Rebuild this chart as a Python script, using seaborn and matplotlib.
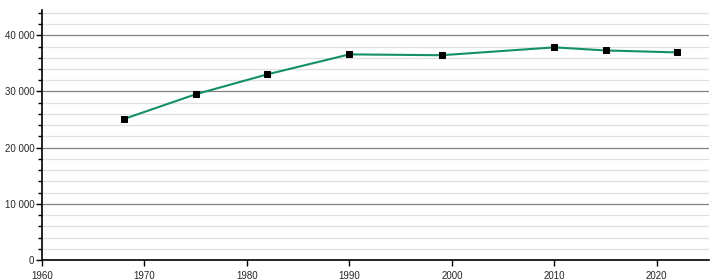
import matplotlib
matplotlib.use("Agg")
import matplotlib.pyplot as plt
import seaborn as sns
import pandas as pd
from matplotlib.ticker import MultipleLocator, FuncFormatter

years = [1968, 1975, 1982, 1990, 1999, 2010, 2015, 2022]
population = [25100, 29500, 33050, 36600, 36450, 37850, 37300, 36950]

df = pd.DataFrame({"year": years, "population": population})

sns.set_style("white")
plt.rcParams["font.family"] = ["Liberation Sans", "DejaVu Sans"]

fig = plt.figure(figsize=(7.2, 2.8), dpi=100)
ax = fig.add_axes([42/720, 20/280, (709-42)/720, 250/280])

sns.lineplot(data=df, x="year", y="population", ax=ax, color="#148f6c",
             linewidth=1.5, marker="s", markersize=3.8,
             markerfacecolor="black", markeredgecolor="black", zorder=3)

ax.set_xlim(1960, 2025.1)
ax.set_ylim(0, 44500)
ax.xaxis.set_major_locator(MultipleLocator(10))
ax.yaxis.set_major_locator(MultipleLocator(10000))
ax.yaxis.set_minor_locator(MultipleLocator(2000))
ax.yaxis.set_major_formatter(FuncFormatter(lambda v, p: f"{int(v):,}".replace(",", " ")))

ax.grid(which="minor", axis="y", color="#e0e0e0", linewidth=0.9, zorder=0)
ax.grid(which="major", axis="y", color="#858585", linewidth=0.9, zorder=1)
ax.set_axisbelow(True)

for s in ["top", "right"]:
    ax.spines[s].set_visible(False)
for s in ["left", "bottom"]:
    ax.spines[s].set_color("black")
    ax.spines[s].set_linewidth(1.2)

ax.tick_params(axis="both", which="major", length=4, width=1, color="black",
               labelsize=7, direction="out", left=True, bottom=True)
ax.tick_params(axis="x", which="major", pad=4)
ax.tick_params(axis="y", which="major", pad=1.5)
ax.tick_params(axis="y", which="minor", length=3, width=1, color="black", left=True)
ax.set_xlabel("")
ax.set_ylabel("")

fig.savefig("out.png", dpi=100)
